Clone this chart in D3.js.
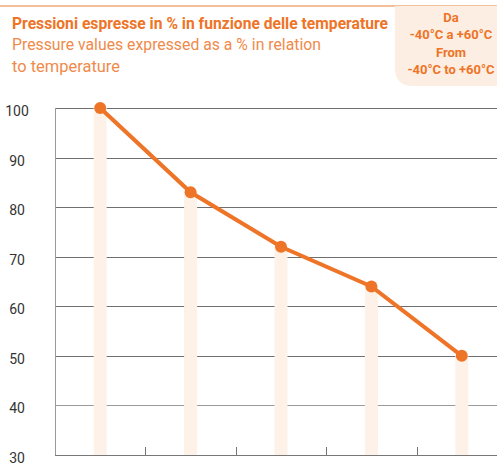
<!DOCTYPE html>
<html>
<head>
<meta charset="utf-8">
<script src="https://cdn.jsdelivr.net/npm/d3@7"></script>
<style>
  body { margin: 0; background: #fff; }
  svg { display: block; }
</style>
</head>
<body>
<script>
const width = 497;
const height = 463;

// data
const categories = ["-40°C", "-15°C", "10°C", "35°C", "60°C"];
const pressure = [100, 83, 72, 64, 50];
const yTicks = [30, 40, 50, 60, 70, 80, 90, 100];

const orange = "#ee7427";
const lightOrange = "#fdf1e8";

let svg = d3
  .select("body")
  .append("svg")
  .attr("width", width)
  .attr("height", height);

let margin = { top: 108, right: -10, bottom: 8, left: 55 };

let xScale = d3
  .scaleBand()
  .domain(categories)
  .range([margin.left, width - margin.right]);

let yScale = d3
  .scaleLinear()
  .domain([30, 100])
  .range([height - margin.bottom, margin.top]);

// header
svg.append("line")
  .attr("x1", 0).attr("x2", width)
  .attr("y1", 6).attr("y2", 6)
  .attr("stroke", "#f4a878")
  .attr("stroke-width", 1.5);

svg.append("path")
  .attr("d", "M395,6 H497 V86 H413 Q395,86 395,68 Z")
  .attr("fill", "#fdeee3");

svg.append("text")
  .attr("x", 12).attr("y", 29)
  .attr("font-family", "Roboto, sans-serif")
  .attr("font-weight", "bold")
  .attr("font-size", 17)
  .attr("fill", orange)
  .attr("textLength", 376)
  .attr("lengthAdjust", "spacingAndGlyphs")
  .text("Pressioni espresse in % in funzione delle temperature");

let sub = svg.append("text")
  .attr("font-family", "Roboto, sans-serif")
  .attr("font-size", 17)
  .attr("fill", "#f08a4b");
sub.append("tspan").attr("x", 12).attr("y", 50)
  .attr("textLength", 309).attr("lengthAdjust", "spacingAndGlyphs")
  .text("Pressure values expressed as a % in relation");
sub.append("tspan").attr("x", 12).attr("y", 72)
  .attr("textLength", 108).attr("lengthAdjust", "spacingAndGlyphs")
  .text("to temperature");

const boxLines = [["Da", 22], ["-40°C a +60°C", 39], ["From", 57], ["-40°C to +60°C", 74]];
svg.append("g")
  .selectAll("text")
  .data(boxLines)
  .join("text")
  .attr("x", 451)
  .attr("y", (d) => d[1])
  .attr("text-anchor", "middle")
  .attr("font-family", "Roboto, sans-serif")
  .attr("font-weight", "bold")
  .attr("font-size", 13)
  .attr("fill", orange)
  .text((d) => d[0]);

// gridlines
let grid = svg.append("g").attr("id", "grid");
grid.selectAll("line")
  .data(yTicks.filter((t) => t > 30))
  .join("line")
  .attr("x1", margin.left)
  .attr("x2", width)
  .attr("y1", (d) => Math.round(yScale(d)) + 0.5)
  .attr("y2", (d) => Math.round(yScale(d)) + 0.5)
  .attr("stroke", (d) => (d === 40 ? "#9a9a9a" : "#6f6f6f"))
  .attr("stroke-width", 1);

// y labels
svg.append("g")
  .selectAll("text")
  .data(yTicks)
  .join("text")
  .attr("x", 17)
  .attr("y", (d) => yScale(d) + 8)
  .attr("text-anchor", "middle")
  .attr("font-family", "'Liberation Sans Narrow', 'Roboto', sans-serif")
  .attr("font-size", 14)
  .attr("fill", "#333")
  .text((d) => d);

// bars
svg.append("g")
  .selectAll("rect")
  .data(pressure)
  .join("rect")
  .attr("x", (d, i) => xScale(categories[i]) + xScale.bandwidth() / 2 - 6.5)
  .attr("y", (d) => yScale(d))
  .attr("width", 13)
  .attr("height", (d) => yScale(30) - yScale(d))
  .attr("fill", lightOrange);

// axes
let yAxisX = margin.left + 0.5;
svg.append("line")
  .attr("x1", yAxisX).attr("x2", yAxisX)
  .attr("y1", yScale(100)).attr("y2", yScale(30))
  .attr("stroke", "#999");

let xAxis = d3.axisBottom(xScale).tickSize(0).tickFormat("");
svg.append("g")
  .attr("transform", `translate(0, ${Math.round(yScale(30)) + 0.5})`)
  .call(xAxis)
  .call((g) => g.select(".domain").attr("stroke", "#777").attr("d", `M${margin.left},0H${width}`));

svg.append("g")
  .selectAll("line")
  .data(categories.slice(1))
  .join("line")
  .attr("x1", (d) => Math.round(xScale(d)) + 0.5)
  .attr("x2", (d) => Math.round(xScale(d)) + 0.5)
  .attr("y1", yScale(30) - 8)
  .attr("y2", yScale(30))
  .attr("stroke", "#777");

// line + markers
let line = d3.line()
  .x((d, i) => xScale(categories[i]) + xScale.bandwidth() / 2)
  .y((d) => yScale(d));

svg.append("path")
  .datum(pressure)
  .attr("d", line)
  .attr("fill", "none")
  .attr("stroke", orange)
  .attr("stroke-width", 4);

svg.append("g")
  .selectAll("circle")
  .data(pressure)
  .join("circle")
  .attr("cx", (d, i) => xScale(categories[i]) + xScale.bandwidth() / 2)
  .attr("cy", (d) => yScale(d))
  .attr("r", 6)
  .attr("fill", orange);
</script>
</body>
</html>
